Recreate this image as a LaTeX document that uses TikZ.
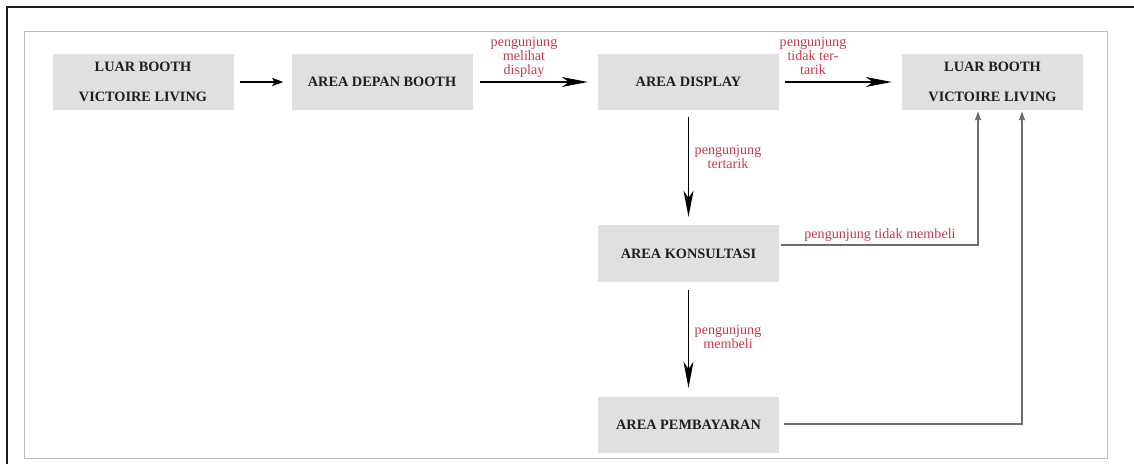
\documentclass[tikz,border=0pt]{standalone}
\usepackage{fontspec}
\setmainfont{Liberation Serif}
\usetikzlibrary{arrows.meta}
\definecolor{boxfill}{RGB}{224,224,224}
\definecolor{lblred}{RGB}{205,55,75}
\definecolor{connGray}{RGB}{110,110,110}
\definecolor{frameGray}{RGB}{190,190,190}
\definecolor{txt}{RGB}{30,30,30}
\tikzset{
  stepbox/.style={fill=boxfill, draw=none, minimum width=181pt, minimum height=56pt,
    inner sep=0pt, align=center, text=txt, font={\fontsize{14.3}{30}\selectfont\bfseries}},
  lbl/.style={text=lblred, align=center, inner sep=0pt, font={\fontsize{14.1}{14}\selectfont}},
  bigarr/.style={draw=black, line width=1.6pt, -{Stealth[length=26pt,width=10pt,inset=7pt]}},
  smallarr/.style={draw=black, line width=1.6pt, -{Stealth[length=11pt,width=8pt,inset=2pt]}},
  grayarr/.style={draw=connGray, line width=1.6pt, -{Stealth[length=9pt,width=6pt,inset=1pt]}},
}
\begin{document}
\begin{tikzpicture}[x=1pt,y=-1pt]
\useasboundingbox (0,0) rectangle (1134,464);
% frames
\draw[draw=frameGray, line width=1pt] (24,31) rectangle (1107,458);
\draw[draw=txt, line width=2.5pt] (7,464) -- (7,7) -- (1134,7);

% boxes
\node[stepbox] (luar1) at (143,82) {LUAR BOOTH\\VICTOIRE LIVING};
\node[stepbox] (depan) at (382,82) {AREA DEPAN BOOTH};
\node[stepbox] (disp) at (688.5,82) {AREA DISPLAY};
\node[stepbox] (luar2) at (992.5,82) {LUAR BOOTH\\VICTOIRE LIVING};
\node[stepbox, minimum height=57pt] (kons) at (688.5,253.5) {AREA KONSULTASI};
\node[stepbox] (bayar) at (688.5,425) {AREA PEMBAYARAN};

% connectors
\draw[smallarr, shorten <=6pt, shorten >=8pt] (luar1) -- (depan);
\draw[bigarr, shorten <=7pt, shorten >=10pt] (depan) -- (disp);
\draw[bigarr, shorten <=6pt, shorten >=10pt] (disp) -- (luar2);
\draw[bigarr, shorten <=7pt, shorten >=8pt] (disp) -- (kons);
\draw[bigarr, shorten <=8pt, shorten >=9pt] (kons) -- (bayar);
\draw[grayarr, shorten >=1pt] ([xshift=2pt,yshift=8.5pt]kons.east) -| ([xshift=-14.5pt]luar2.south);
\draw[grayarr, shorten >=1pt] ([xshift=5pt,yshift=1pt]bayar.east) -| ([xshift=29.5pt]luar2.south);

% labels
\node[lbl] (l1) at (524,57) {pengunjung\\melihat\\display};
\node[lbl] (l2) at (813,56) {pengunjung\\tidak ter-\\tarik};
\node[lbl] (l3) at (728,157) {pengunjung\\tertarik};
\node[lbl] (l4) at (880,235) {pengunjung tidak membeli};
\node[lbl] (l5) at (728,337) {pengunjung\\membeli};
\end{tikzpicture}
\end{document}
